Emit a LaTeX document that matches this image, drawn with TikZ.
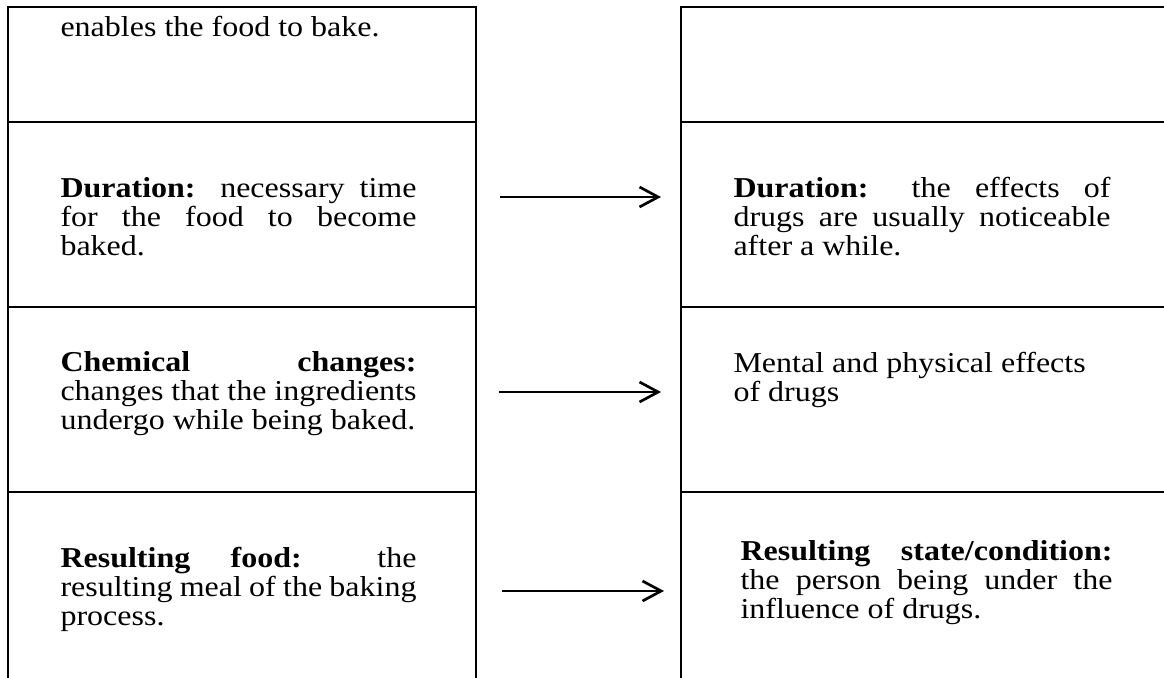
\documentclass[tikz,border=0pt]{standalone}
\usepackage{graphicx}
\usepackage{fontspec}
\setmainfont{Liberation Serif}
\usetikzlibrary{arrows.meta}
\newcommand\sqz[1]{\scalebox{1}[0.9]{#1}}
\begin{document}
\begin{tikzpicture}[x=0.375pt,y=-0.375pt,
  frame/.style={line width=0.9pt,black},
  conn/.style={line width=1pt,-{Straight Barb[length=7pt,width=7.5pt,line width=1pt]}},
  txt/.style={anchor=base west,inner sep=0pt,font=\fontsize{12}{14}\selectfont}]
\useasboundingbox (0,0) rectangle (1164,678);
% left column
\draw[frame] (8,678) -- (8,7) -- (476,7) -- (476,678);
\draw[frame] (8,122) -- (476,122);
\draw[frame] (8,307) -- (476,307);
\draw[frame] (8,492) -- (476,492);
% right column
\draw[frame] (1164,7) -- (681,7) -- (681,678);
\draw[frame] (681,122) -- (1164,122);
\draw[frame] (681,307) -- (1164,307);
\draw[frame] (681,492) -- (1164,492);
% left texts
\node[txt] (l0) at (60,36) {\sqz{enables the food to bake.}};
\node[txt] (l1a) at (60,197) {\sqz{\makebox[133.5pt][s]{\textbf{Duration:} necessary time}}};
\node[txt] (l1b) at (60,226) {\sqz{\makebox[133.5pt][s]{for the food to become}}};
\node[txt] (l1c) at (60,255) {\sqz{baked.}};
\node[txt] (l2a) at (60,371) {\sqz{\makebox[133.5pt][s]{\textbf{Chemical} \textbf{changes:}}}};
\node[txt] (l2b) at (60,400) {\sqz{\makebox[133.5pt][s]{changes that the ingredients}}};
\node[txt] (l2c) at (60,429) {\sqz{undergo while being baked.}};
\node[txt] (l3a) at (60,567) {\sqz{\makebox[133.5pt][s]{\textbf{Resulting} \textbf{food:} the}}};
\node[txt] (l3b) at (60,596) {\sqz{\makebox[133.5pt][s]{resulting meal of the baking}}};
\node[txt] (l3c) at (60,625) {\sqz{process.}};
% right texts
\node[txt] (r1a) at (733,197) {\sqz{\makebox[141.4pt][s]{\textbf{Duration:} the effects of}}};
\node[txt] (r1b) at (733,226) {\sqz{\makebox[141.4pt][s]{drugs are usually noticeable}}};
\node[txt] (r1c) at (733,255) {\sqz{after a while.}};
\node[txt] (r2a) at (733,372) {\sqz{Mental and physical effects}};
\node[txt] (r2b) at (733,401) {\sqz{of drugs}};
\node[txt] (r3a) at (740,560) {\sqz{\makebox[139.5pt][s]{\textbf{Resulting} \textbf{state/condition:}}}};
\node[txt] (r3b) at (740,589) {\sqz{\makebox[139.5pt][s]{the person being under the}}};
\node[txt] (r3c) at (740,618) {\sqz{influence of drugs.}};
% arrows
\coordinate (a1s) at (500,197); \coordinate (a1e) at (661,197);
\coordinate (a2s) at (499,392); \coordinate (a2e) at (661,392);
\coordinate (a3s) at (502,591); \coordinate (a3e) at (664,591);
\draw[conn] (a1s) -- (a1e);
\draw[conn] (a2s) -- (a2e);
\draw[conn] (a3s) -- (a3e);
\end{tikzpicture}
\end{document}
